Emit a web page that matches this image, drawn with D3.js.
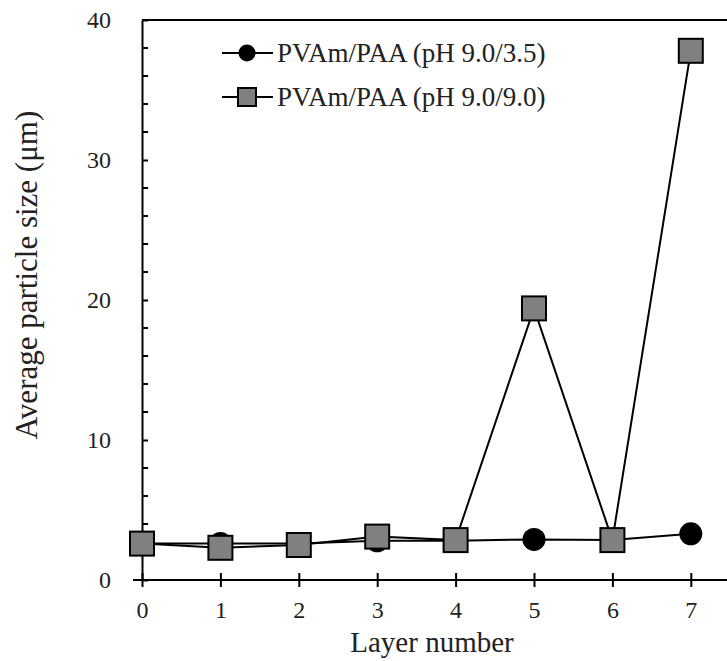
<!DOCTYPE html>
<html>
<head>
<meta charset="utf-8">
<script src="https://cdn.jsdelivr.net/npm/d3@7"></script>
<style>
  body { margin: 0; background: #fff; }
  text { font-family: "Liberation Serif", "Times New Roman", serif; fill: #222; }
</style>
</head>
<body>
<svg id="chart" width="727" height="661"></svg>
<script>
// layer numbers and average particle sizes (um)
const layers = [0, 1, 2, 3, 4, 5, 6, 7]
const acidSizes = [2.6, 2.6, 2.6, 2.8, 2.8, 2.9, 2.85, 3.3]   // pH 9.0/3.5
const basicSizes = [2.6, 2.3, 2.5, 3.1, 2.85, 19.4, 2.85, 37.8] // pH 9.0/9.0
const seriesNames = ['PVAm/PAA (pH 9.0/3.5)', 'PVAm/PAA (pH 9.0/9.0)']
const yTicks = [0, 10, 20, 30, 40]
const yMinor = [2, 4, 6, 8, 12, 14, 16, 18, 22, 24, 26, 28, 32, 34, 36, 38]

const svg = d3.select('#chart')
const x = d3.scaleLinear().domain([0, 7.5]).range([142, 730])
const y = d3.scaleLinear().domain([0, 40]).range([580, 20])

// x axis
const xAxis = svg.append('g')
    .attr('transform', `translate(0,${y(0)})`)
    .call(d3.axisBottom(x).tickValues(layers).tickSize(7).tickSizeOuter(0).tickPadding(14))
xAxis.select('.domain').attr('d', `M133,0H${x(7.5)}`)
xAxis.selectAll('.tick line').attr('y1', -7)
xAxis.selectAll('text').style('font-size', '24px')

// y axis
const yAxis = svg.append('g')
    .attr('transform', `translate(${x(0)},0)`)
    .call(d3.axisLeft(y).tickValues(yTicks).tickSize(9).tickSizeOuter(0).tickPadding(22))
yAxis.selectAll('.tick line').attr('x2', 6)
yAxis.selectAll('text').style('font-size', '24px')
yAxis.selectAll('.minor')
    .data(yMinor)
    .enter()
    .append('line')
        .attr('x1', 0).attr('x2', 6)
        .attr('y1', d => y(d)).attr('y2', d => y(d))
        .attr('stroke', '#000')

svg.selectAll('.domain, .tick line').attr('stroke', '#000').attr('stroke-width', 2)
yAxis.selectAll('line').attr('stroke-width', 2)

// top frame line
svg.append('line')
    .attr('x1', x(0)).attr('x2', x(7.5))
    .attr('y1', y(40)).attr('y2', y(40))
    .attr('stroke', '#000').attr('stroke-width', 2)

// axis titles
svg.append('text')
    .attr('x', 432).attr('y', 652)
    .attr('text-anchor', 'middle')
    .style('font-size', '29px')
    .text('Layer number')
svg.append('text')
    .attr('transform', `translate(37,${275}) rotate(-90)`)
    .attr('text-anchor', 'middle')
    .style('font-size', '31px')
    .text('Average particle size (μm)')

const line = d3.line().x((d, i) => x(layers[i])).y(d => y(d))

// series pH 9.0/3.5: black circles
svg.append('path')
    .datum(acidSizes)
    .attr('d', line)
    .attr('fill', 'none').attr('stroke', '#000').attr('stroke-width', 2)
svg.append('g')
    .selectAll('circle')
    .data(acidSizes)
    .enter()
    .append('circle')
        .attr('cx', (d, i) => x(layers[i]))
        .attr('cy', d => y(d))
        .attr('r', 11.5)
        .style('fill', '#000')

// series pH 9.0/9.0: gray squares
svg.append('path')
    .datum(basicSizes)
    .attr('d', line)
    .attr('fill', 'none').attr('stroke', '#000').attr('stroke-width', 2)
svg.append('g')
    .selectAll('rect')
    .data(basicSizes)
    .enter()
    .append('rect')
        .attr('x', (d, i) => x(layers[i]) - 12)
        .attr('y', d => y(d) - 12)
        .attr('width', 24).attr('height', 24)
        .style('fill', '#808080')
        .style('stroke', '#000')
        .style('stroke-width', 2)

// legend
const legend = svg.append('g')
const rows = legend.selectAll('g')
    .data(seriesNames)
    .enter()
    .append('g')
        .attr('transform', (d, i) => `translate(222,${53 + i * 44})`)
rows.append('line')
    .attr('x1', 0).attr('x2', 51)
    .attr('stroke', '#000').attr('stroke-width', 2)
rows.filter((d, i) => i === 0).append('circle')
    .attr('cx', 25).attr('r', 8.5).style('fill', '#000')
rows.filter((d, i) => i === 1).append('rect')
    .attr('x', 16).attr('y', -9).attr('width', 18).attr('height', 18)
    .style('fill', '#808080').style('stroke', '#000').style('stroke-width', 2)
rows.append('text')
    .attr('x', 55).attr('dy', '0.33em')
    .style('font-size', '27px')
    .text(d => d)
</script>
</body>
</html>
